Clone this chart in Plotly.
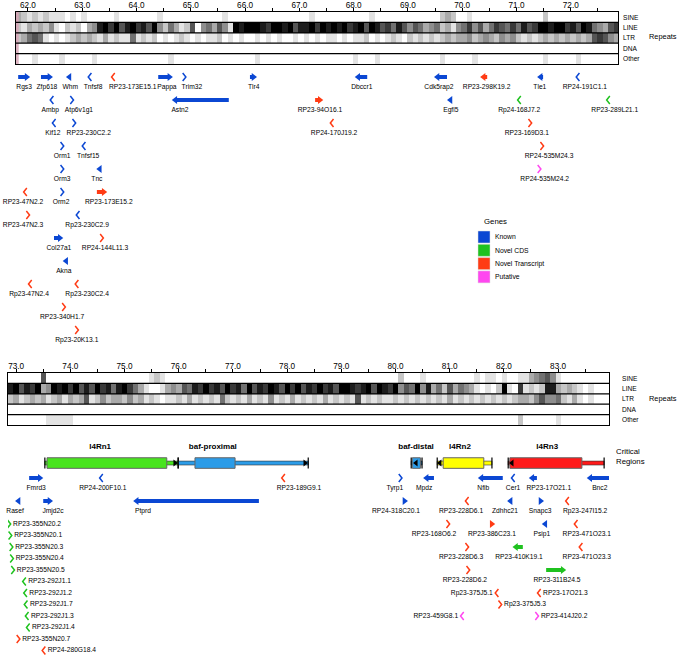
import plotly.graph_objects as go

FONT = "Liberation Sans, Arial, Helvetica, sans-serif"
W, H = 680, 658

# ------------------------------------------------------------------ data
top_range = [61.78, 72.87]
bottom_range = [72.85, 83.94]
top_tick_labels = ["62.0", "63.0", "64.0", "65.0", "66.0", "67.0", "68.0", "69.0", "70.0", "71.0", "72.0"]
bottom_tick_labels = ["73.0", "74.0", "75.0", "76.0", "77.0", "78.0", "79.0", "80.0", "81.0", "82.0", "83.0"]
repeat_classes = ["SINE", "LINE", "LTR", "DNA", "Other"]

# repeat density, 0.1 Mb bins, 0 (none) .. 9 (dense)
repeat_bin_mb = 0.1
top_first_bin = 61.83
bottom_first_bin = 72.90

top_sine = ("32121211" "10101" "00000100" "0000010000" "0000000100" "0000000000"
            "0001000000" "0000100000" "0000000" "232" "0010000000" "000000" "2" "0000000000000")
top_line = ("2132" "324" "102" "120" "34" "89" "796897869" "4253" "1260" "45364" "1"
            "98999879989688979898" "9789698" "67586" "465345" "2314" "5746357" "6575867"
            "99899" "7869854367")
top_ltr = ("23" "565" "10101" "23232" "1312" "1151" "2120101210" "1011201010" "0101010010"
           "1010110101" "1201012102" "12121" "2323" "3423432434" "21212" "32323" "2323" "676" "43")
top_dna = ("0000000000" "0000000000" "0000000000" "0000000000" "0000000000" "0000000000"
           "0000000000" "0000000000" "0000000000" "0000000000" "0000000000" "0")
top_other = ("0001000010" "0000100000" "0000000010" "0000000000" "0000100000" "0000000000"
             "0010001000" "0000000010" "0000100000" "0000000100" "00010000000")

bottom_sine = ("000000" "6" "0000000000000000000" "121" "0000000000" "0000000000" "0000000000"
               "0000000000" "000" "2" "000" "1" "000000000" "101101" "0011" "34564" "1000000000")
bottom_line = ("896879" "34" "98979" "686978" "5897" "53" "1001" "343"
               "658797869785968798697968797869" "9878969879" "465948" "3526354" "31010" "29" "10"
               "7" "1212" "88" "3232" "101000")
bottom_ltr = ("2312323123" "1323612423" "3242312101" "1213121215" "2121312141" "2131212131"
              "2121612121" "1212121212" "1312121212" "1212332464" "45213101000")
bottom_dna = top_dna
bottom_other = ("0000000111" "1100000000" "0000000000" "0000000000" "0000000000" "0000000000"
                "0000000000" "0000000000" "0000000000" "0000200000" "01000000000")

top_edge_mark = [61.78, 61.83]

# genes: name, start (Mb), end (Mb), strand, category, row, label centre (Mb)
top_genes = [
    ("Rgs3", 61.82, 62.04, 1, "Known", 0, 61.93),
    ("Zfp618", 62.24, 62.46, 1, "Known", 0, 62.35),
    ("Whm", 62.70, 62.79, -1, "Known", 0, 62.78),
    ("Tnfsf8", 63.13, 63.15, -1, "Known", 0, 63.20),
    ("RP23-173E15.1", 63.56, 63.58, -1, "Novel Transcript", 0, 63.93),
    ("Pappa", 64.40, 64.67, 1, "Known", 0, 64.56),
    ("Trim32", 64.87, 64.89, 1, "Known", 0, 65.02),
    ("Tlr4", 66.09, 66.22, 1, "Known", 0, 66.16),
    ("Dbccr1", 68.02, 68.25, -1, "Known", 0, 68.15),
    ("Cdk5rap2", 69.48, 69.72, -1, "Known", 0, 69.57),
    ("RP23-298K19.2", 70.33, 70.46, -1, "Novel Transcript", 0, 70.45),
    ("Tle1", 71.38, 71.49, -1, "Known", 0, 71.43),
    ("RP24-191C1.1", 72.12, 72.14, -1, "Known", 0, 72.26),
    ("Ambp", 62.43, 62.45, -1, "Known", 2, 62.41),
    ("Atp6v1g1", 62.80, 62.82, 1, "Known", 2, 62.94),
    ("Astn2", 64.65, 65.70, -1, "Known", 2, 64.80),
    ("RP23-94O16.1", 67.29, 67.44, 1, "Novel Transcript", 2, 67.38),
    ("Egfl5", 69.72, 69.81, -1, "Known", 2, 69.79),
    ("Rp24-168J7.2", 71.04, 71.06, -1, "Novel CDS", 2, 71.05),
    ("RP23-289L21.1", 72.68, 72.70, -1, "Novel CDS", 2, 72.81),
    ("Kif12", 62.47, 62.49, -1, "Known", 4, 62.46),
    ("RP23-230C2.2", 62.84, 62.86, 1, "Known", 4, 63.12),
    ("RP24-170J19.2", 67.59, 67.61, -1, "Novel Transcript", 4, 67.64),
    ("RP23-169D3.1", 71.24, 71.26, 1, "Novel Transcript", 4, 71.19),
    ("Orm1", 62.62, 62.64, 1, "Known", 6, 62.63),
    ("Tnfsf15", 63.02, 63.04, -1, "Known", 6, 63.11),
    ("RP24-535M24.3", 71.46, 71.48, 1, "Novel Transcript", 6, 71.60),
    ("Orm3", 62.62, 62.64, 1, "Known", 8, 62.63),
    ("Tnc", 63.26, 63.33, -1, "Known", 8, 63.27),
    ("RP24-535M24.2", 71.41, 71.43, 1, "Putative", 8, 71.52),
    ("RP23-47N2.2", 61.94, 61.96, -1, "Novel Transcript", 10, 61.91),
    ("Orm2", 62.62, 62.64, 1, "Known", 10, 62.61),
    ("RP23-173E15.2", 63.27, 63.46, 1, "Novel Transcript", 10, 63.49),
    ("RP23-47N2.3", 61.99, 62.01, 1, "Novel Transcript", 12, 61.91),
    ("Rp23-230C2.9", 62.91, 62.93, -1, "Known", 12, 63.09),
    ("Col27a1", 62.48, 62.65, 1, "Known", 14, 62.57),
    ("RP24-144L11.3", 63.35, 63.37, 1, "Novel Transcript", 14, 63.42),
    ("Akna", 62.64, 62.72, -1, "Known", 16, 62.66),
    ("Rp23-47N2.4", 62.03, 62.05, -1, "Novel Transcript", 18, 62.02),
    ("Rp23-230C2.4", 62.89, 62.91, -1, "Novel Transcript", 18, 63.09),
    ("RP23-340H1.7", 62.65, 62.67, 1, "Novel Transcript", 20, 62.63),
    ("Rp23-20K13.1", 62.89, 62.91, 1, "Novel Transcript", 22, 62.90),
]

bottom_genes = [
    ("Fmrd3", 73.24, 73.50, 1, "Known", 0, 73.37),
    ("RP24-200F10.1", 74.56, 74.58, -1, "Known", 0, 74.60),
    ("RP23-189G9.1", 77.92, 77.94, -1, "Novel Transcript", 0, 78.22),
    ("Tyrp1", 80.08, 80.10, 1, "Known", 0, 79.99),
    ("Mpdz", 80.51, 80.71, -1, "Known", 0, 80.53),
    ("Nfib", 81.52, 81.98, -1, "Known", 0, 81.62),
    ("Cer1", 82.16, 82.18, -1, "Known", 0, 82.17),
    ("RP23-17O21.1", 82.46, 82.61, -1, "Known", 0, 82.83),
    ("Bnc2", 83.53, 83.96, -1, "Known", 0, 83.77),
    ("Rasef", 72.98, 73.07, -1, "Known", 2, 72.98),
    ("Jmjd2c", 73.50, 73.68, 1, "Known", 2, 73.68),
    ("Ptprd", 75.16, 77.48, -1, "Known", 2, 75.34),
    ("RP24-318C20.1", 80.16, 80.23, 1, "Known", 2, 80.01),
    ("RP23-228D6.1", 81.31, 81.33, -1, "Novel Transcript", 2, 81.21),
    ("Zdhhc21", 82.06, 82.13, -1, "Known", 2, 82.02),
    ("Snapc3", 82.67, 82.74, 1, "Known", 2, 82.67),
    ("Rp23-247I15.2", 83.16, 83.18, -1, "Novel Transcript", 2, 83.50),
    ("RP23-168O6.2", 80.96, 80.98, 1, "Novel Transcript", 4, 80.71),
    ("RP23-386C23.1", 81.76, 81.84, 1, "Novel Transcript", 4, 81.78),
    ("Psip1", 82.70, 82.78, -1, "Known", 4, 82.70),
    ("RP23-471O23.1", 83.32, 83.34, -1, "Novel Transcript", 4, 83.53),
    ("RP23-228D6.3", 81.31, 81.33, 1, "Novel Transcript", 6, 81.21),
    ("RP23-410K19.1", 82.16, 82.35, -1, "Novel CDS", 6, 82.28),
    ("RP23-471O23.3", 83.41, 83.43, -1, "Novel Transcript", 6, 83.53),
    ("RP23-228D6.2", 81.33, 81.35, 1, "Novel Transcript", 8, 81.28),
    ("RP23-311B24.5", 82.78, 83.15, 1, "Novel CDS", 8, 82.98),
]

# genes labelled beside the glyph: name, start, end, strand, category, row, label side
bottom_inline_genes = [
    ("RP23-355N20.2", 72.86, 72.88, 1, "Novel CDS", 4, "right"),
    ("RP23-355N20.1", 72.88, 72.90, 1, "Novel CDS", 5, "right"),
    ("RP23-355N20.3", 72.90, 72.92, 1, "Novel CDS", 6, "right"),
    ("RP23-355N20.4", 72.91, 72.93, 1, "Novel CDS", 7, "right"),
    ("RP23-355N20.5", 72.93, 72.95, 1, "Novel CDS", 8, "right"),
    ("RP23-292J1.1", 73.14, 73.16, -1, "Novel CDS", 9, "right"),
    ("RP23-292J1.2", 73.16, 73.18, -1, "Novel CDS", 10, "right"),
    ("RP23-292J1.7", 73.17, 73.19, -1, "Novel CDS", 11, "right"),
    ("RP23-292J1.3", 73.19, 73.21, -1, "Novel CDS", 12, "right"),
    ("RP23-292J1.4", 73.21, 73.23, -1, "Novel CDS", 13, "right"),
    ("RP23-355N20.7", 73.03, 73.05, 1, "Novel Transcript", 14, "right"),
    ("RP24-280G18.4", 73.50, 73.52, -1, "Novel Transcript", 15, "right"),
    ("Rp23-375J5.1", 81.86, 81.88, -1, "Novel Transcript", 10, "left"),
    ("RP23-17O21.3", 82.64, 82.66, -1, "Novel Transcript", 10, "right"),
    ("Rp23-375J5.3", 81.92, 81.94, 1, "Novel Transcript", 11, "right"),
    ("RP23-459G8.1", 81.22, 81.24, -1, "Putative", 12, "left"),
    ("RP23-414J20.2", 82.60, 82.62, 1, "Putative", 12, "right"),
]

# critical regions: name, range start, range end, core start, core end, marker, marker dir, label x
regions = [
    ("l4Rn1", 73.53, 75.99, 73.57, 75.78, 75.93, 1, 74.55),
    ("baf-proximal", 75.99, 78.39, 76.30, 77.04, 78.33, 1, 76.63),
    ("baf-distal", 80.29, 80.49, 80.31, 80.46, 80.38, -1, 80.38),
    ("l4Rn2", 80.77, 81.78, 80.88, 81.63, 80.82, -1, 81.19),
    ("l4Rn3", 82.08, 83.85, 82.11, 83.44, 82.15, -1, 82.80),
]
legend_items = ["Known", "Novel CDS", "Novel Transcript", "Putative"]

# ------------------------------------------------------------------ style
CAT_COLORS = {"Known": "#0b47d3", "Novel CDS": "#1fc21f",
              "Novel Transcript": "#ff3b14", "Putative": "#ff47f0"}
REGION_COLORS = {"l4Rn1": "#48e41e", "baf-proximal": "#2c9ce8", "baf-distal": "#2c9ce8",
                 "l4Rn2": "#ffff00", "l4Rn3": "#ff1a1a"}
MB_PER_PX = 11.09 / 602
HEAD = 7
CHEV_W = 1.6
CHEV_H = 0.34
LABEL_DY = 0.88
REG_ROW = -1.3
REG_LABEL_ROW = -2.7
GENE_FS = 6.7


def digits(s, n=111):
    vals = [int(c) for c in s[:n]]
    return vals + [0] * (n - len(vals))


def pdom(top_px, bot_px):
    return [1 - bot_px / H, 1 - top_px / H]


fig = go.Figure()

# repeat heatmaps
for rows, x0, xa, ya in [((top_sine, top_line, top_ltr, top_dna, top_other), top_first_bin, "x", "y"),
                         ((bottom_sine, bottom_line, bottom_ltr, bottom_dna, bottom_other), bottom_first_bin, "x2", "y2")]:
    fig.add_trace(go.Heatmap(z=[digits(r) for r in rows], x0=x0, dx=repeat_bin_mb, y=list(range(5)),
                             zmin=0, zmax=9, colorscale=[[0, "#ffffff"], [1, "#000000"]],
                             showscale=False, hoverinfo="skip", xaxis=xa, yaxis=ya))


def gene_traces(genes, xa, ya):
    out = []
    for cat, col in CAT_COLORS.items():
        bx, by, rx, ry, lx, ly, cx, cy = [], [], [], [], [], [], [], []
        for g in genes:
            name, s, e, strand, c, row = g[:6]
            if c != cat:
                continue
            if e - s >= 0.05:
                off = HEAD / 2 * MB_PER_PX
                if strand > 0:
                    bx += [s, e - off, None]
                    rx.append(e - off); ry.append(row)
                else:
                    bx += [s + off, e, None]
                    lx.append(s + off); ly.append(row)
                by += [row, row, None]
            else:
                m = (s + e) / 2
                d = CHEV_W * MB_PER_PX * strand
                cx += [m - d, m + d, m - d, None]
                cy += [row - CHEV_H, row, row + CHEV_H, None]
        common = dict(xaxis=xa, yaxis=ya, hoverinfo="skip", cliponaxis=False)
        if bx:
            out.append(go.Scatter(x=bx, y=by, mode="lines", line=dict(color=col, width=4), **common))
        if rx:
            out.append(go.Scatter(x=rx, y=ry, mode="markers",
                                  marker=dict(symbol="triangle-right", size=HEAD, color=col, line=dict(width=0)), **common))
        if lx:
            out.append(go.Scatter(x=lx, y=ly, mode="markers",
                                  marker=dict(symbol="triangle-left", size=HEAD, color=col, line=dict(width=0)), **common))
        if cx:
            out.append(go.Scatter(x=cx, y=cy, mode="lines", line=dict(color=col, width=1.5), **common))
    return out


tf = dict(family=FONT, size=GENE_FS, color="black")
for genes, xa, ya in [(top_genes, "x", "y3"), (bottom_genes, "x2", "y4")]:
    for t in gene_traces(genes, xa, ya):
        fig.add_trace(t)
    fig.add_trace(go.Scatter(x=[g[6] for g in genes], y=[g[5] + LABEL_DY for g in genes],
                             text=[g[0] for g in genes], mode="text", textposition="middle center",
                             textfont=tf, xaxis=xa, yaxis=ya, hoverinfo="skip", cliponaxis=False))

for t in gene_traces(bottom_inline_genes, "x2", "y4"):
    fig.add_trace(t)
for side in ["right", "left"]:
    sel = [g for g in bottom_inline_genes if g[6] == side]
    sgn = 1 if side == "right" else -1
    fig.add_trace(go.Scatter(x=[(g[1] + g[2]) / 2 + sgn * 4 * MB_PER_PX for g in sel],
                             y=[g[5] for g in sel], text=[g[0] for g in sel], mode="text",
                             textposition="middle " + side, textfont=tf, xaxis="x2", yaxis="y4",
                             hoverinfo="skip", cliponaxis=False))

# critical regions
shapes = []
for name, ls, le, bs, be, mk, md, lab in regions:
    col = REGION_COLORS[name]
    shapes.append(dict(type="rect", xref="x2", yref="y4", x0=ls, x1=le, y0=REG_ROW - 0.17, y1=REG_ROW + 0.17,
                       fillcolor=col, line=dict(color="#333333", width=0.6), layer="below"))
    shapes.append(dict(type="rect", xref="x2", yref="y4", x0=bs, x1=be, y0=REG_ROW - 0.46, y1=REG_ROW + 0.46,
                       fillcolor=col, line=dict(color="#666666", width=1), layer="below"))
    for xe in (ls, le):
        shapes.append(dict(type="line", xref="x2", yref="y4", x0=xe, x1=xe, y0=REG_ROW - 0.48, y1=REG_ROW + 0.48,
                           line=dict(color="black", width=1.2), layer="below"))
for d, sym in [(1, "triangle-right"), (-1, "triangle-left")]:
    sel = [r for r in regions if r[6] == d]
    fig.add_trace(go.Scatter(x=[r[5] for r in sel], y=[REG_ROW] * len(sel), mode="markers",
                             marker=dict(symbol=sym, size=6, color="black", line=dict(width=0)),
                             xaxis="x2", yaxis="y4", hoverinfo="skip", cliponaxis=False))
fig.add_trace(go.Scatter(x=[r[7] for r in regions], y=[REG_LABEL_ROW] * len(regions),
                         text=["<b>%s</b>" % r[0] for r in regions], mode="text", textposition="middle center",
                         textfont=dict(family=FONT, size=8, color="black"), xaxis="x2", yaxis="y4",
                         hoverinfo="skip", cliponaxis=False))

# track decorations
shapes.append(dict(type="rect", xref="x", yref="y domain", x0=top_edge_mark[0], x1=top_edge_mark[1], y0=0, y1=1,
                   fillcolor="#d7a6b6", opacity=0.85, line=dict(width=0), layer="above"))
for ya in ["y", "y2"]:
    xd = "x domain" if ya == "y" else "x2 domain"
    for k in range(4):
        shapes.append(dict(type="line", xref=xd, yref=ya, x0=0, x1=1, y0=k + 0.5, y1=k + 0.5,
                           line=dict(color="black", width=1.3), layer="above"))

annotations = []
for ya, xpx in [("y", 621), ("y2", 620)]:
    for k, nm in enumerate(repeat_classes):
        annotations.append(dict(text=nm, xref="paper", yref=ya, x=xpx / W, y=k, xanchor="left", yanchor="middle",
                                showarrow=False, font=dict(family=FONT, size=6.6, color="#000000")))
for ypx in (37, 398):
    annotations.append(dict(text="Repeats", xref="paper", yref="paper", x=647 / W, y=1 - ypx / H,
                            xanchor="left", yanchor="middle", showarrow=False,
                            font=dict(family=FONT, size=7.4, color="#000000")))
annotations.append(dict(text="Critical<br>Regions", xref="paper", yref="paper", x=614 / W, y=1 - 456.5 / H,
                        xanchor="left", yanchor="middle", align="left", showarrow=False,
                        font=dict(family=FONT, size=7.8, color="#000000")))

# legend
annotations.append(dict(text="Genes", xref="paper", yref="paper", x=482 / W, y=1 - 222 / H, xanchor="left",
                        yanchor="middle", showarrow=False, font=dict(family=FONT, size=7.8, color="#000000")))
for i, item in enumerate(legend_items):
    cy = 237 + 13.3 * i
    shapes.append(dict(type="rect", xref="paper", yref="paper", x0=478 / W, x1=490 / W,
                       y0=1 - (cy + 6) / H, y1=1 - (cy - 6) / H, fillcolor=CAT_COLORS[item],
                       line=dict(color="#dddddd", width=0.5)))
    annotations.append(dict(text=item, xref="paper", yref="paper", x=493 / W, y=1 - cy / H, xanchor="left",
                            yanchor="middle", showarrow=False, font=dict(family=FONT, size=6.8, color="#000000")))


def xaxis_cfg(labels, rng, dom, anchor):
    vals, text = [], []
    for lab in labels:
        vals += [float(lab), float(lab) + 0.5]
        text += [lab, ""]
    return dict(domain=dom, range=rng, anchor=anchor, side="top", tickmode="array", tickvals=vals,
                ticktext=text, ticks="outside", ticklen=3, tickwidth=1, tickcolor="black",
                ticklabelstandoff=-3,
                tickfont=dict(family=FONT, size=8.2, color="black"), showgrid=False, zeroline=False,
                showline=True, mirror=True, linecolor="black", linewidth=1.3, fixedrange=True,
                automargin=False)


def track_y(dom, anchor):
    return dict(domain=dom, range=[4.5, -0.5], anchor=anchor, showticklabels=False, ticks="",
                showgrid=False, zeroline=False, showline=True, mirror=True, linecolor="black",
                linewidth=1.3, fixedrange=True)


fig.update_layout(
    width=W, height=H, margin=dict(l=0, r=0, t=0, b=0), autosize=False,
    paper_bgcolor="white", plot_bgcolor="white", showlegend=False, hovermode=False,
    font=dict(family=FONT, color="black"),
    xaxis=xaxis_cfg(top_tick_labels, top_range, [16 / W, 618 / W], "y"),
    xaxis2=xaxis_cfg(bottom_tick_labels, bottom_range, [8 / W, 609 / W], "y2"),
    yaxis=track_y(pdom(12, 64), "x"),
    yaxis2=track_y(pdom(373, 425), "x2"),
    yaxis3=dict(domain=pdom(65.5, 353), range=[24, -1], anchor="x", visible=False, fixedrange=True),
    yaxis4=dict(domain=pdom(437.75, 656.25), range=[15.5, -3.5], anchor="x2", visible=False, fixedrange=True),
    shapes=shapes, annotations=annotations,
)

fig.write_html("out.html", config={"displayModeBar": False},
               post_script="document.body.style.margin='0';document.body.style.padding='0';")
